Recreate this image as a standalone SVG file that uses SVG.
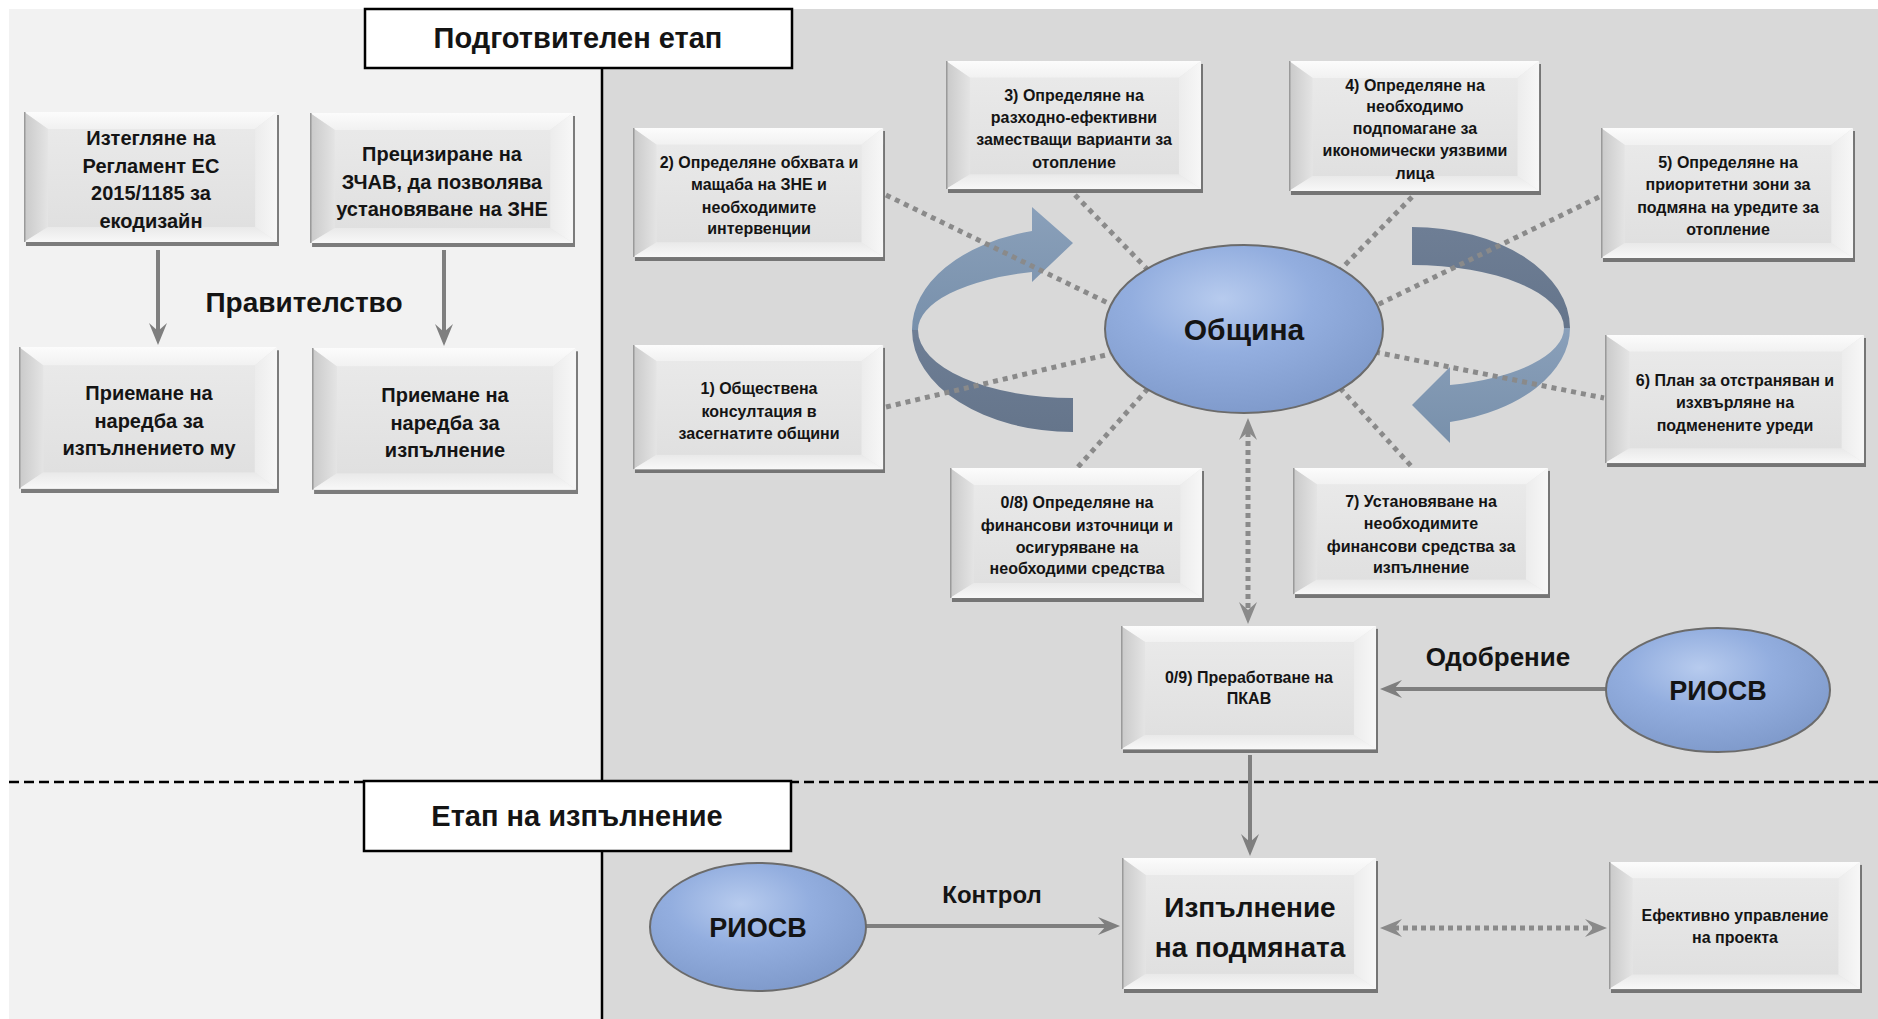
<svg xmlns="http://www.w3.org/2000/svg" width="1878" height="1019" viewBox="0 0 1878 1019">
<style>
.t{font-family:"Liberation Sans",Arial,sans-serif;font-weight:bold;fill:#141414;text-anchor:middle}
.s20{font-size:20px}.s16{font-size:16px}.s15{font-size:16px}
.big{font-size:28px}
.dot{fill:none;stroke:#8a8a8a;stroke-width:5;stroke-dasharray:5 5}
.dotarr{fill:none;stroke:#8a8a8a;stroke-width:5;stroke-dasharray:5 4}
.solid{fill:none;stroke:#7f7f7f;stroke-width:4}
.ell{fill:url(#ellG);stroke:#6b6b6b;stroke-width:2}
.title{fill:#fff;stroke:#000;stroke-width:2.5}
</style>
<defs>
<linearGradient id="bTop" x1="0" y1="0" x2="0" y2="1"><stop offset="0" stop-color="#fcfcfc"/><stop offset="1" stop-color="#f1f1f1"/></linearGradient>
<linearGradient id="bLeft" x1="0" y1="0" x2="1" y2="0"><stop offset="0" stop-color="#c9c9c9"/><stop offset="1" stop-color="#e4e4e4"/></linearGradient>
<linearGradient id="bRight" x1="0" y1="0" x2="1" y2="0"><stop offset="0" stop-color="#ececec"/><stop offset="1" stop-color="#f7f7f7"/></linearGradient>
<linearGradient id="bBot" x1="0" y1="0" x2="0" y2="1"><stop offset="0" stop-color="#e9e9e9"/><stop offset="1" stop-color="#f8f8f8"/></linearGradient>
<linearGradient id="bFace" x1="0" y1="0" x2="0" y2="1"><stop offset="0" stop-color="#e9e9e9"/><stop offset="1" stop-color="#e0e0e0"/></linearGradient>
<radialGradient id="ellG" cx="0.42" cy="0.32" r="0.72"><stop offset="0" stop-color="#b7cbee"/><stop offset="0.45" stop-color="#93aedf"/><stop offset="1" stop-color="#7e99ca"/></radialGradient>
<linearGradient id="arLight" x1="0" y1="0" x2="0" y2="1"><stop offset="0" stop-color="#8aa0ba"/><stop offset="1" stop-color="#7890ab"/></linearGradient>
<linearGradient id="arDark" x1="0" y1="0" x2="0" y2="1"><stop offset="0" stop-color="#6e7e95"/><stop offset="1" stop-color="#65758b"/></linearGradient>
<symbol id="bev" viewBox="0 0 256 134" preserveAspectRatio="none">
<rect x="2" y="3" width="254" height="131" fill="#4a4a4a" opacity="0.7"/>
<rect x="0" y="0" width="254" height="130" fill="#e6e6e6"/>
<polygon points="0,0 254,0 232,17 24,17" fill="url(#bTop)"/>
<polygon points="0,0 24,17 24,115 0,130" fill="url(#bLeft)"/>
<polygon points="254,0 254,130 232,115 232,17" fill="url(#bRight)"/>
<polygon points="0,130 254,130 232,115 24,115" fill="url(#bBot)"/>
<rect x="24" y="17" width="208" height="98" fill="url(#bFace)"/>
<rect x="0" y="0" width="1.5" height="130" fill="#9a9a9a"/>
</symbol>
<marker id="ah" viewBox="0 0 22 18" refX="8" refY="9" markerWidth="22" markerHeight="18" markerUnits="userSpaceOnUse" orient="auto-start-reverse"><path d="M0,0 L22,9 L0,18 L8,9 Z" fill="#7f7f7f"/></marker>
<marker id="ahd" viewBox="0 0 22 18" refX="8" refY="9" markerWidth="22" markerHeight="18" markerUnits="userSpaceOnUse" orient="auto-start-reverse"><path d="M0,0 L22,9 L0,18 L8,9 Z" fill="#8a8a8a"/></marker>
</defs>

<g id="background">
<rect x="0" y="0" width="1878" height="1019" fill="#fff"/>
<rect x="9" y="9" width="593" height="1010" fill="#f2f2f2"/>
<rect x="602" y="9" width="1276" height="1010" fill="#d9d9d9"/>
<line x1="602" y1="68" x2="602" y2="781" stroke="#000" stroke-width="2.5"/>
<line x1="602" y1="851" x2="602" y2="1019" stroke="#000" stroke-width="2.5"/>
<line x1="9" y1="782" x2="1878" y2="782" stroke="#000" stroke-width="2.5" stroke-dasharray="10 5"/>
</g>

<g id="stage-prep">
<rect class="title" x="365" y="9" width="427" height="59"/>
<text class="t" x="578" y="48" font-size="29">Подготвителен етап</text>
</g>
<g id="stage-impl">
<rect class="title" x="364" y="781" width="427" height="70"/>
<text class="t" x="577" y="826" font-size="29">Етап на изпълнение</text>
</g>

<g id="cycle-arrows">
<path d="M1032,231 A161,102 0 0 0 912,330 L918,330 A155,60 0 0 1 1032,272 L1032,282 L1073,243 L1032,207 Z" fill="url(#arLight)"/>
<path d="M912,330 A161,102 0 0 0 1073,432 L1073,398 A155,68 0 0 1 918,330 Z" fill="url(#arDark)"/>
<path d="M1412,227 A158,101 0 0 1 1570,328 L1564,328 A152,63 0 0 0 1412,265 Z" fill="url(#arDark)"/>
<path d="M1570,328 A158,97 0 0 1 1450,422 L1450,443 L1412,405 L1450,367 L1450,385 A152,59 0 0 0 1564,328 Z" fill="url(#arLight)"/>
</g>

<g id="connectors">
<line class="dot" x1="886" y1="195" x2="1110" y2="304"/>
<line class="dot" x1="1075" y1="195" x2="1150" y2="272"/>
<line class="dot" x1="886" y1="407" x2="1110" y2="354"/>
<line class="dot" x1="1078" y1="467" x2="1152" y2="384"/>
<line class="dot" x1="1412" y1="197" x2="1340" y2="270"/>
<line class="dot" x1="1599" y1="197" x2="1375" y2="306"/>
<line class="dot" x1="1375" y1="352" x2="1604" y2="398"/>
<line class="dot" x1="1340" y1="388" x2="1412" y2="467"/>
<line class="solid" x1="158" y1="250" x2="158" y2="331" marker-end="url(#ah)"/>
<line class="solid" x1="444" y1="250" x2="444" y2="332" marker-end="url(#ah)"/>
<line class="dotarr" x1="1248" y1="432" x2="1248" y2="610" marker-start="url(#ahd)" marker-end="url(#ahd)"/>
<line class="solid" x1="1250" y1="755" x2="1250" y2="842" marker-end="url(#ah)"/>
<line class="solid" x1="1606" y1="689" x2="1394" y2="689" marker-end="url(#ah)"/>
<line class="solid" x1="866" y1="926" x2="1106" y2="926" marker-end="url(#ah)"/>
<line class="dotarr" x1="1394" y1="928" x2="1593" y2="928" marker-start="url(#ahd)" marker-end="url(#ahd)"/>
<text class="t" x="304" y="312" font-size="28">Правителство</text>
<text class="t" x="1498" y="666" font-size="26">Одобрение</text>
<text class="t" x="992" y="903" font-size="24">Контрол</text>
</g>

<g id="gov-ecodesign">
<use href="#bev" x="24" y="112" width="255" height="134"/>
<text class="t s20"><tspan x="151" y="145">Изтегляне на</tspan><tspan x="151" y="173">Регламент ЕС</tspan><tspan x="151" y="200">2015/1185 за</tspan><tspan x="151" y="228">екодизайн</tspan></text>
</g>
<g id="gov-zchav">
<use href="#bev" x="310" y="113" width="265" height="134"/>
<text class="t s20"><tspan x="442" y="161">Прецизиране на</tspan><tspan x="442" y="189">ЗЧАВ, да позволява</tspan><tspan x="442" y="216">установяване на ЗНЕ</tspan></text>
</g>
<g id="gov-ordinance1">
<use href="#bev" x="19" y="347" width="260" height="146"/>
<text class="t s20"><tspan x="149" y="400">Приемане на</tspan><tspan x="149" y="428">наредба за</tspan><tspan x="149" y="455">изпълнението му</tspan></text>
</g>
<g id="gov-ordinance2">
<use href="#bev" x="312" y="348" width="266" height="146"/>
<text class="t s20"><tspan x="445" y="402">Приемане на</tspan><tspan x="445" y="430">наредба за</tspan><tspan x="445" y="457">изпълнение</tspan></text>
</g>

<g id="step2">
<use href="#bev" x="633" y="128" width="252" height="133"/>
<text class="t s16"><tspan x="759" y="168">2) Определяне обхвата и</tspan><tspan x="759" y="190">мащаба на ЗНЕ и</tspan><tspan x="759" y="213">необходимите</tspan><tspan x="759" y="234">интервенции</tspan></text>
</g>
<g id="step3">
<use href="#bev" x="946" y="61" width="257" height="132"/>
<text class="t s16"><tspan x="1074" y="101">3) Определяне на</tspan><tspan x="1074" y="123">разходно-ефективни</tspan><tspan x="1074" y="145">заместващи варианти за</tspan><tspan x="1074" y="168">отопление</tspan></text>
</g>
<g id="step4">
<use href="#bev" x="1289" y="61" width="252" height="134"/>
<text class="t s16"><tspan x="1415" y="91">4) Определяне на</tspan><tspan x="1415" y="112">необходимо</tspan><tspan x="1415" y="134">подпомагане за</tspan><tspan x="1415" y="156">икономически уязвими</tspan><tspan x="1415" y="179">лица</tspan></text>
</g>
<g id="step5">
<use href="#bev" x="1601" y="128" width="254" height="134"/>
<text class="t s16"><tspan x="1728" y="168">5) Определяне на</tspan><tspan x="1728" y="190">приоритетни зони за</tspan><tspan x="1728" y="213">подмяна на уредите за</tspan><tspan x="1728" y="235">отопление</tspan></text>
</g>
<g id="step1">
<use href="#bev" x="633" y="345" width="252" height="128"/>
<text class="t s16"><tspan x="759" y="394">1) Обществена</tspan><tspan x="759" y="417">консултация в</tspan><tspan x="759" y="439">засегнатите общини</tspan></text>
</g>
<g id="step6">
<use href="#bev" x="1605" y="335" width="261" height="132"/>
<text class="t s16"><tspan x="1735" y="386">6) План за отстраняван и</tspan><tspan x="1735" y="408">изхвърляне на</tspan><tspan x="1735" y="431">подменените уреди</tspan></text>
</g>
<g id="step08">
<use href="#bev" x="950" y="468" width="254" height="134"/>
<text class="t s16"><tspan x="1077" y="508">0/8) Определяне на</tspan><tspan x="1077" y="531">финансови източници и</tspan><tspan x="1077" y="553">осигуряване на</tspan><tspan x="1077" y="574">необходими средства</tspan></text>
</g>
<g id="step7">
<use href="#bev" x="1293" y="468" width="257" height="130"/>
<text class="t s16"><tspan x="1421" y="507">7) Установяване на</tspan><tspan x="1421" y="529">необходимите</tspan><tspan x="1421" y="552">финансови средства за</tspan><tspan x="1421" y="573">изпълнение</tspan></text>
</g>
<g id="step09">
<use href="#bev" x="1121" y="626" width="257" height="127"/>
<text class="t s16"><tspan x="1249" y="683">0/9) Преработване на</tspan><tspan x="1249" y="704">ПКАВ</tspan></text>
</g>
<g id="obshtina">
<ellipse class="ell" cx="1244" cy="329" rx="139" ry="84"/>
<text class="t" x="1244" y="340" font-size="30">Община</text>
</g>
<g id="riosv-approve">
<ellipse class="ell" cx="1718" cy="690" rx="112" ry="62"/>
<text class="t" x="1718" y="700" font-size="27">РИОСВ</text>
</g>
<g id="riosv-control">
<ellipse class="ell" cx="758" cy="927" rx="108" ry="64"/>
<text class="t" x="758" y="937" font-size="27">РИОСВ</text>
</g>
<g id="implementation">
<use href="#bev" x="1122" y="858" width="256" height="135"/>
<text class="t big"><tspan x="1250" y="917">Изпълнение</tspan><tspan x="1250" y="957">на подмяната</tspan></text>
</g>
<g id="management">
<use href="#bev" x="1609" y="862" width="253" height="131"/>
<text class="t s15"><tspan x="1735" y="921">Ефективно управление</tspan><tspan x="1735" y="943">на проекта</tspan></text>
</g>
</svg>
